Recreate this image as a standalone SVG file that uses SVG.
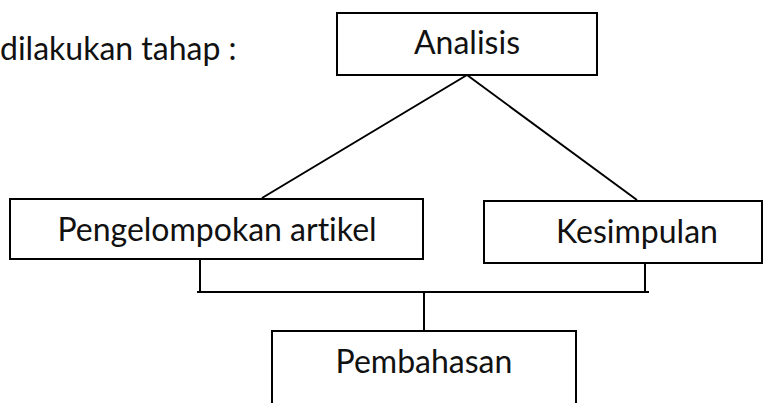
<svg xmlns="http://www.w3.org/2000/svg" width="776" height="403" viewBox="0 0 776 403">
<style>
.box{fill:#fff;stroke:#000;stroke-width:2}
.t{font-family:Lato,"Liberation Sans",sans-serif;font-size:32px;fill:#111;font-variant-ligatures:none;font-feature-settings:"liga" 0,"dlig" 0}
.c line{stroke:#000;stroke-width:2}
</style>
<rect width="776" height="403" fill="#fff"/>
<text class="t" x="0" y="60">dilakukan tahap :</text>
<g class="c">
<line x1="467" y1="75" x2="262" y2="198"/>
<line x1="467" y1="75" x2="637" y2="200"/>
<line x1="200" y1="259" x2="200" y2="292"/>
<line x1="645" y1="263" x2="645" y2="292"/>
<line x1="197" y1="292" x2="649" y2="292"/>
<line x1="424" y1="292" x2="424" y2="331"/>
</g>
<g id="analisis"><rect class="box" x="337" y="13" width="260" height="62"/><text class="t" x="467" y="54" text-anchor="middle">Analisis</text></g>
<g id="pengelompokan"><rect class="box" x="10" y="199" width="413" height="60"/><text class="t" x="217" y="241" text-anchor="middle">Pengelompokan artikel</text></g>
<g id="kesimpulan"><rect class="box" x="484" y="201" width="278" height="62"/><text class="t" x="637" y="243" text-anchor="middle">Kesimpulan</text></g>
<g id="pembahasan"><rect class="box" x="272" y="331" width="304" height="90"/><text class="t" x="424" y="373" text-anchor="middle">Pembahasan</text></g>
</svg>
